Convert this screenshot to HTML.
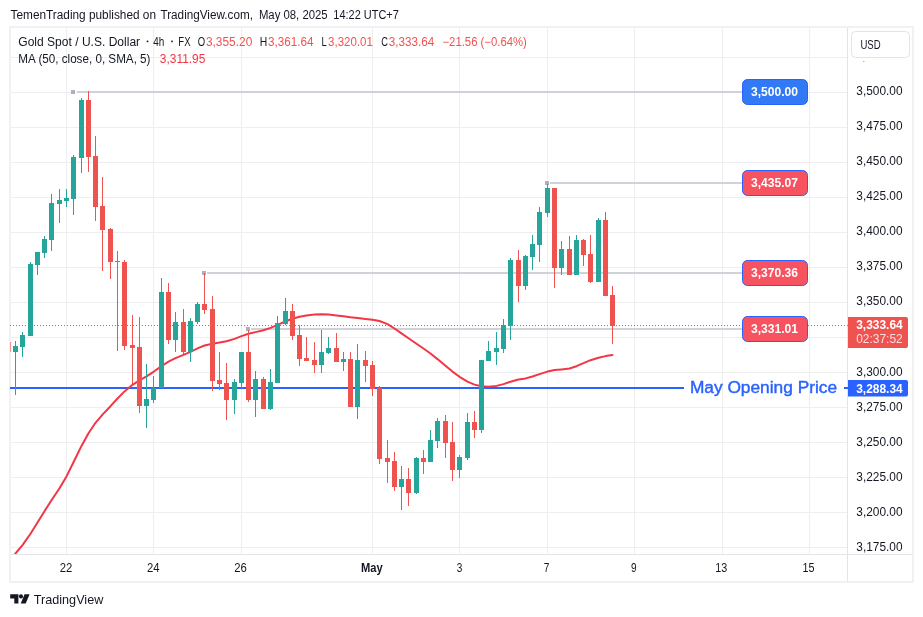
<!DOCTYPE html>
<html><head><meta charset="utf-8"><title>XAUUSD chart</title>
<style>
html,body{margin:0;padding:0;background:#fff;}
body{width:923px;height:617px;overflow:hidden;position:relative;font-family:"Liberation Sans",sans-serif;}
svg{position:absolute;left:0;top:0;will-change:transform;}
text{font-family:"Liberation Sans",sans-serif;}
</style></head><body>
<svg width="923" height="617" viewBox="0 0 923 617">
<defs><clipPath id="pane"><rect x="10" y="28" width="838" height="526"/></clipPath></defs>
<rect x="0" y="0" width="923" height="617" fill="#ffffff"/>
<g shape-rendering="crispEdges">
<rect x="66" y="28" width="1" height="526" fill="#eeeef0"/>
<rect x="153" y="28" width="1" height="526" fill="#eeeef0"/>
<rect x="241" y="28" width="1" height="526" fill="#eeeef0"/>
<rect x="372" y="28" width="1" height="526" fill="#eeeef0"/>
<rect x="459" y="28" width="1" height="526" fill="#eeeef0"/>
<rect x="547" y="28" width="1" height="526" fill="#eeeef0"/>
<rect x="634" y="28" width="1" height="526" fill="#eeeef0"/>
<rect x="722" y="28" width="1" height="526" fill="#eeeef0"/>
<rect x="809" y="28" width="1" height="526" fill="#eeeef0"/>
<rect x="11" y="57" width="837" height="1" fill="#eeeef0"/>
<rect x="11" y="92" width="837" height="1" fill="#eeeef0"/>
<rect x="11" y="127" width="837" height="1" fill="#eeeef0"/>
<rect x="11" y="162" width="837" height="1" fill="#eeeef0"/>
<rect x="11" y="197" width="837" height="1" fill="#eeeef0"/>
<rect x="11" y="232" width="837" height="1" fill="#eeeef0"/>
<rect x="11" y="267" width="837" height="1" fill="#eeeef0"/>
<rect x="11" y="302" width="837" height="1" fill="#eeeef0"/>
<rect x="11" y="337" width="837" height="1" fill="#eeeef0"/>
<rect x="11" y="372" width="837" height="1" fill="#eeeef0"/>
<rect x="11" y="407" width="837" height="1" fill="#eeeef0"/>
<rect x="11" y="442" width="837" height="1" fill="#eeeef0"/>
<rect x="11" y="477" width="837" height="1" fill="#eeeef0"/>
<rect x="11" y="512" width="837" height="1" fill="#eeeef0"/>
<rect x="11" y="547" width="837" height="1" fill="#eeeef0"/>
<rect x="9" y="26" width="905" height="2" fill="#f1f1f3"/>
<rect x="9" y="581" width="905" height="2" fill="#f1f1f3"/>
<rect x="9" y="26" width="2" height="557" fill="#f1f1f3"/>
<rect x="912" y="26" width="2" height="557" fill="#f1f1f3"/>
<rect x="847" y="28" width="1" height="553" fill="#e4e4e8"/>
<rect x="11" y="554" width="901" height="1" fill="#e4e4e8"/>
</g>
<g shape-rendering="crispEdges">
<rect x="77" y="91" width="665" height="2" fill="#d0d2d9"/>
<rect x="207" y="272" width="535" height="2" fill="#d0d2d9"/>
<rect x="550" y="182" width="192" height="2" fill="#d0d2d9"/>
<rect x="251" y="328" width="491" height="2" fill="#d0d2d9"/>
</g>
<rect x="71" y="90" width="4" height="4" fill="#adb0c0"/>
<rect x="202" y="271" width="4" height="4" fill="#adb0c0"/>
<rect x="545" y="181" width="4" height="4" fill="#adb0c0"/>
<rect x="246" y="327" width="4" height="4" fill="#adb0c0"/>
<g shape-rendering="crispEdges">
<rect x="10" y="387" width="674" height="2" fill="#2962ff"/>
<rect x="844" y="387" width="4" height="2" fill="#2962ff"/>
</g>
<polyline points="10.0,560.8 15.5,553.5 22.5,545.1 30.5,533.7 37.5,522.5 44.5,511.2 51.5,500.3 59.5,488.2 66.5,476.4 73.5,462.2 81.5,445.9 88.5,433.2 95.5,422.8 102.5,414.6 110.5,406.2 117.5,398.5 124.5,391.4 132.5,384.8 139.5,380.3 146.5,376.3 153.5,371.8 161.5,366.1 168.5,361.7 175.5,358.1 183.5,354.8 190.5,351.9 197.5,348.4 204.5,345.5 212.5,343.7 219.5,342.6 226.5,341.3 234.5,338.9 241.5,336.1 248.5,333.7 255.5,332.1 263.5,330.3 270.5,327.9 277.5,324.8 285.5,321.3 292.5,318.7 299.5,316.8 306.5,315.4 314.5,314.4 321.5,314.3 328.5,314.6 336.5,315.4 343.5,316.3 350.5,317.3 357.5,318.1 365.5,318.9 372.5,319.7 379.5,321.0 387.5,324.1 394.5,328.5 401.5,333.4 408.5,338.3 416.5,343.8 423.5,348.5 430.5,353.5 437.5,359.1 445.5,365.8 452.5,371.6 459.5,376.8 467.5,381.7 474.5,384.6 481.5,386.2 488.5,386.7 496.5,385.9 503.5,384.1 510.5,381.7 518.5,379.5 525.5,378.4 532.5,376.5 539.5,374.1 547.5,371.6 554.5,370.1 561.5,369.4 569.5,368.5 576.5,366.2 583.5,363.1 590.5,360.2 598.5,357.7 605.5,356.1 612.5,355.0" fill="none" stroke="#f23645" stroke-width="2" stroke-linejoin="round" stroke-linecap="round" clip-path="url(#pane)"/>
<g shape-rendering="crispEdges" clip-path="url(#pane)">
<rect x="10" y="342" width="1" height="10" fill="#ef5350" fill-opacity="0.6"/>
<rect x="15" y="341" width="1" height="54" fill="#26a69a"/>
<rect x="13" y="346" width="5" height="6" fill="#26a69a"/>
<rect x="22" y="332" width="1" height="25" fill="#26a69a"/>
<rect x="20" y="335" width="5" height="12" fill="#26a69a"/>
<rect x="30" y="262" width="1" height="74" fill="#26a69a"/>
<rect x="28" y="264" width="5" height="72" fill="#26a69a"/>
<rect x="37" y="252" width="1" height="23" fill="#26a69a"/>
<rect x="35" y="252" width="5" height="13" fill="#26a69a"/>
<rect x="44" y="236" width="1" height="22" fill="#26a69a"/>
<rect x="42" y="239" width="5" height="14" fill="#26a69a"/>
<rect x="51" y="194" width="1" height="57" fill="#26a69a"/>
<rect x="49" y="203" width="5" height="37" fill="#26a69a"/>
<rect x="59" y="189" width="1" height="34" fill="#26a69a"/>
<rect x="57" y="200" width="5" height="4" fill="#26a69a"/>
<rect x="66" y="189" width="1" height="18" fill="#26a69a"/>
<rect x="64" y="198" width="5" height="3" fill="#26a69a"/>
<rect x="73" y="155" width="1" height="60" fill="#26a69a"/>
<rect x="71" y="157" width="5" height="42" fill="#26a69a"/>
<rect x="81" y="98" width="1" height="75" fill="#26a69a"/>
<rect x="79" y="100" width="5" height="58" fill="#26a69a"/>
<rect x="88" y="91" width="1" height="81" fill="#ef5350"/>
<rect x="86" y="100" width="5" height="57" fill="#ef5350"/>
<rect x="95" y="136" width="1" height="85" fill="#ef5350"/>
<rect x="93" y="156" width="5" height="51" fill="#ef5350"/>
<rect x="102" y="177" width="1" height="94" fill="#ef5350"/>
<rect x="100" y="206" width="5" height="24" fill="#ef5350"/>
<rect x="110" y="228" width="1" height="51" fill="#ef5350"/>
<rect x="108" y="229" width="5" height="33" fill="#ef5350"/>
<rect x="117" y="251" width="1" height="100" fill="#ef5350"/>
<rect x="115" y="261" width="5" height="1" fill="#ef5350"/>
<rect x="124" y="260" width="1" height="90" fill="#ef5350"/>
<rect x="122" y="262" width="5" height="84" fill="#ef5350"/>
<rect x="132" y="315" width="1" height="69" fill="#ef5350"/>
<rect x="130" y="345" width="5" height="3" fill="#ef5350"/>
<rect x="139" y="317" width="1" height="96" fill="#ef5350"/>
<rect x="137" y="347" width="5" height="59" fill="#ef5350"/>
<rect x="146" y="364" width="1" height="64" fill="#26a69a"/>
<rect x="144" y="399" width="5" height="7" fill="#26a69a"/>
<rect x="153" y="376" width="1" height="27" fill="#26a69a"/>
<rect x="151" y="388" width="5" height="12" fill="#26a69a"/>
<rect x="161" y="278" width="1" height="110" fill="#26a69a"/>
<rect x="159" y="292" width="5" height="96" fill="#26a69a"/>
<rect x="168" y="283" width="1" height="61" fill="#ef5350"/>
<rect x="166" y="292" width="5" height="48" fill="#ef5350"/>
<rect x="175" y="312" width="1" height="40" fill="#26a69a"/>
<rect x="173" y="322" width="5" height="18" fill="#26a69a"/>
<rect x="183" y="309" width="1" height="45" fill="#ef5350"/>
<rect x="181" y="322" width="5" height="30" fill="#ef5350"/>
<rect x="190" y="318" width="1" height="44" fill="#26a69a"/>
<rect x="188" y="321" width="5" height="31" fill="#26a69a"/>
<rect x="197" y="302" width="1" height="22" fill="#26a69a"/>
<rect x="195" y="304" width="5" height="18" fill="#26a69a"/>
<rect x="204" y="273" width="1" height="41" fill="#ef5350"/>
<rect x="202" y="304" width="5" height="6" fill="#ef5350"/>
<rect x="212" y="296" width="1" height="95" fill="#ef5350"/>
<rect x="210" y="309" width="5" height="72" fill="#ef5350"/>
<rect x="219" y="352" width="1" height="38" fill="#ef5350"/>
<rect x="217" y="380" width="5" height="4" fill="#ef5350"/>
<rect x="226" y="363" width="1" height="57" fill="#ef5350"/>
<rect x="224" y="383" width="5" height="17" fill="#ef5350"/>
<rect x="234" y="379" width="1" height="35" fill="#26a69a"/>
<rect x="232" y="382" width="5" height="18" fill="#26a69a"/>
<rect x="241" y="352" width="1" height="36" fill="#26a69a"/>
<rect x="239" y="352" width="5" height="31" fill="#26a69a"/>
<rect x="248" y="330" width="1" height="72" fill="#ef5350"/>
<rect x="246" y="352" width="5" height="48" fill="#ef5350"/>
<rect x="255" y="371" width="1" height="46" fill="#26a69a"/>
<rect x="253" y="379" width="5" height="21" fill="#26a69a"/>
<rect x="263" y="377" width="1" height="32" fill="#ef5350"/>
<rect x="261" y="379" width="5" height="30" fill="#ef5350"/>
<rect x="270" y="369" width="1" height="41" fill="#26a69a"/>
<rect x="268" y="382" width="5" height="27" fill="#26a69a"/>
<rect x="277" y="316" width="1" height="67" fill="#26a69a"/>
<rect x="275" y="323" width="5" height="60" fill="#26a69a"/>
<rect x="285" y="298" width="1" height="27" fill="#26a69a"/>
<rect x="283" y="311" width="5" height="13" fill="#26a69a"/>
<rect x="292" y="304" width="1" height="36" fill="#ef5350"/>
<rect x="290" y="311" width="5" height="25" fill="#ef5350"/>
<rect x="299" y="325" width="1" height="41" fill="#ef5350"/>
<rect x="297" y="335" width="5" height="24" fill="#ef5350"/>
<rect x="306" y="337" width="1" height="24" fill="#ef5350"/>
<rect x="304" y="358" width="5" height="3" fill="#ef5350"/>
<rect x="314" y="342" width="1" height="31" fill="#ef5350"/>
<rect x="312" y="360" width="5" height="5" fill="#ef5350"/>
<rect x="321" y="330" width="1" height="43" fill="#26a69a"/>
<rect x="319" y="352" width="5" height="13" fill="#26a69a"/>
<rect x="328" y="337" width="1" height="17" fill="#26a69a"/>
<rect x="326" y="348" width="5" height="5" fill="#26a69a"/>
<rect x="336" y="333" width="1" height="29" fill="#ef5350"/>
<rect x="334" y="348" width="5" height="14" fill="#ef5350"/>
<rect x="343" y="352" width="1" height="19" fill="#26a69a"/>
<rect x="341" y="359" width="5" height="3" fill="#26a69a"/>
<rect x="350" y="352" width="1" height="55" fill="#ef5350"/>
<rect x="348" y="359" width="5" height="48" fill="#ef5350"/>
<rect x="357" y="344" width="1" height="75" fill="#26a69a"/>
<rect x="355" y="360" width="5" height="47" fill="#26a69a"/>
<rect x="365" y="351" width="1" height="31" fill="#ef5350"/>
<rect x="363" y="360" width="5" height="6" fill="#ef5350"/>
<rect x="372" y="361" width="1" height="35" fill="#ef5350"/>
<rect x="370" y="365" width="5" height="24" fill="#ef5350"/>
<rect x="379" y="386" width="1" height="78" fill="#ef5350"/>
<rect x="377" y="388" width="5" height="71" fill="#ef5350"/>
<rect x="387" y="440" width="1" height="43" fill="#ef5350"/>
<rect x="385" y="458" width="5" height="4" fill="#ef5350"/>
<rect x="394" y="452" width="1" height="39" fill="#ef5350"/>
<rect x="392" y="461" width="5" height="26" fill="#ef5350"/>
<rect x="401" y="466" width="1" height="44" fill="#26a69a"/>
<rect x="399" y="479" width="5" height="8" fill="#26a69a"/>
<rect x="408" y="468" width="1" height="38" fill="#ef5350"/>
<rect x="406" y="479" width="5" height="14" fill="#ef5350"/>
<rect x="416" y="457" width="1" height="37" fill="#26a69a"/>
<rect x="414" y="458" width="5" height="35" fill="#26a69a"/>
<rect x="423" y="450" width="1" height="24" fill="#ef5350"/>
<rect x="421" y="458" width="5" height="4" fill="#ef5350"/>
<rect x="430" y="430" width="1" height="32" fill="#26a69a"/>
<rect x="428" y="440" width="5" height="22" fill="#26a69a"/>
<rect x="437" y="418" width="1" height="30" fill="#26a69a"/>
<rect x="435" y="421" width="5" height="20" fill="#26a69a"/>
<rect x="445" y="415" width="1" height="43" fill="#ef5350"/>
<rect x="443" y="421" width="5" height="22" fill="#ef5350"/>
<rect x="452" y="422" width="1" height="59" fill="#ef5350"/>
<rect x="450" y="442" width="5" height="28" fill="#ef5350"/>
<rect x="459" y="455" width="1" height="23" fill="#26a69a"/>
<rect x="457" y="457" width="5" height="13" fill="#26a69a"/>
<rect x="467" y="413" width="1" height="47" fill="#26a69a"/>
<rect x="465" y="422" width="5" height="36" fill="#26a69a"/>
<rect x="474" y="411" width="1" height="27" fill="#ef5350"/>
<rect x="472" y="422" width="5" height="8" fill="#ef5350"/>
<rect x="481" y="360" width="1" height="73" fill="#26a69a"/>
<rect x="479" y="360" width="5" height="70" fill="#26a69a"/>
<rect x="488" y="341" width="1" height="20" fill="#26a69a"/>
<rect x="486" y="351" width="5" height="10" fill="#26a69a"/>
<rect x="496" y="332" width="1" height="33" fill="#26a69a"/>
<rect x="494" y="348" width="5" height="4" fill="#26a69a"/>
<rect x="503" y="319" width="1" height="34" fill="#26a69a"/>
<rect x="501" y="325" width="5" height="24" fill="#26a69a"/>
<rect x="510" y="258" width="1" height="82" fill="#26a69a"/>
<rect x="508" y="260" width="5" height="66" fill="#26a69a"/>
<rect x="518" y="250" width="1" height="52" fill="#ef5350"/>
<rect x="516" y="260" width="5" height="26" fill="#ef5350"/>
<rect x="525" y="255" width="1" height="35" fill="#26a69a"/>
<rect x="523" y="256" width="5" height="30" fill="#26a69a"/>
<rect x="532" y="235" width="1" height="35" fill="#26a69a"/>
<rect x="530" y="244" width="5" height="13" fill="#26a69a"/>
<rect x="539" y="207" width="1" height="55" fill="#26a69a"/>
<rect x="537" y="212" width="5" height="33" fill="#26a69a"/>
<rect x="547" y="184" width="1" height="33" fill="#26a69a"/>
<rect x="545" y="188" width="5" height="25" fill="#26a69a"/>
<rect x="554" y="188" width="1" height="100" fill="#ef5350"/>
<rect x="552" y="188" width="5" height="80" fill="#ef5350"/>
<rect x="561" y="241" width="1" height="34" fill="#26a69a"/>
<rect x="559" y="249" width="5" height="19" fill="#26a69a"/>
<rect x="569" y="236" width="1" height="39" fill="#ef5350"/>
<rect x="567" y="249" width="5" height="26" fill="#ef5350"/>
<rect x="576" y="235" width="1" height="40" fill="#26a69a"/>
<rect x="574" y="240" width="5" height="35" fill="#26a69a"/>
<rect x="583" y="239" width="1" height="27" fill="#ef5350"/>
<rect x="581" y="240" width="5" height="15" fill="#ef5350"/>
<rect x="590" y="235" width="1" height="48" fill="#ef5350"/>
<rect x="588" y="254" width="5" height="28" fill="#ef5350"/>
<rect x="598" y="218" width="1" height="64" fill="#26a69a"/>
<rect x="596" y="220" width="5" height="62" fill="#26a69a"/>
<rect x="605" y="212" width="1" height="84" fill="#ef5350"/>
<rect x="603" y="220" width="5" height="76" fill="#ef5350"/>
<rect x="612" y="286" width="1" height="58" fill="#ef5350"/>
<rect x="610" y="295" width="5" height="31" fill="#ef5350"/>
</g>
<line x1="10" y1="325.5" x2="848" y2="325.5" stroke="#ef5350" stroke-width="1" stroke-dasharray="1 2" shape-rendering="crispEdges"/>
<rect x="742.5" y="79.5" width="65" height="25" rx="5" ry="5" fill="#3179f5" stroke="#2962ff" stroke-width="1"/>
<text x="751" y="96.3" font-size="12" font-weight="bold" fill="#ffffff" textLength="47" lengthAdjust="spacingAndGlyphs">3,500.00</text>
<rect x="742.5" y="170.5" width="65" height="25" rx="5" ry="5" fill="#f7525f" stroke="#2962ff" stroke-width="1"/>
<text x="751" y="187.3" font-size="12" font-weight="bold" fill="#ffffff" textLength="47" lengthAdjust="spacingAndGlyphs">3,435.07</text>
<rect x="742.5" y="260.5" width="65" height="25" rx="5" ry="5" fill="#f7525f" stroke="#2962ff" stroke-width="1"/>
<text x="751" y="277.3" font-size="12" font-weight="bold" fill="#ffffff" textLength="47" lengthAdjust="spacingAndGlyphs">3,370.36</text>
<rect x="742.5" y="316.5" width="65" height="25" rx="5" ry="5" fill="#f7525f" stroke="#2962ff" stroke-width="1"/>
<text x="751" y="333.3" font-size="12" font-weight="bold" fill="#ffffff" textLength="47" lengthAdjust="spacingAndGlyphs">3,331.01</text>
<text x="689.9" y="392.8" font-size="16" fill="#2962ff" stroke="#2962ff" stroke-width="0.4" textLength="147.2" lengthAdjust="spacingAndGlyphs">May Opening Price</text>
<text x="856.3" y="94.8" font-size="12" fill="#131722" textLength="46.2" lengthAdjust="spacingAndGlyphs">3,500.00</text>
<text x="856.3" y="129.9" font-size="12" fill="#131722" textLength="46.2" lengthAdjust="spacingAndGlyphs">3,475.00</text>
<text x="856.3" y="165.0" font-size="12" fill="#131722" textLength="46.2" lengthAdjust="spacingAndGlyphs">3,450.00</text>
<text x="856.3" y="200.1" font-size="12" fill="#131722" textLength="46.2" lengthAdjust="spacingAndGlyphs">3,425.00</text>
<text x="856.3" y="235.1" font-size="12" fill="#131722" textLength="46.2" lengthAdjust="spacingAndGlyphs">3,400.00</text>
<text x="856.3" y="270.2" font-size="12" fill="#131722" textLength="46.2" lengthAdjust="spacingAndGlyphs">3,375.00</text>
<text x="856.3" y="305.3" font-size="12" fill="#131722" textLength="46.2" lengthAdjust="spacingAndGlyphs">3,350.00</text>
<text x="856.3" y="375.5" font-size="12" fill="#131722" textLength="46.2" lengthAdjust="spacingAndGlyphs">3,300.00</text>
<text x="856.3" y="410.6" font-size="12" fill="#131722" textLength="46.2" lengthAdjust="spacingAndGlyphs">3,275.00</text>
<text x="856.3" y="445.7" font-size="12" fill="#131722" textLength="46.2" lengthAdjust="spacingAndGlyphs">3,250.00</text>
<text x="856.3" y="480.7" font-size="12" fill="#131722" textLength="46.2" lengthAdjust="spacingAndGlyphs">3,225.00</text>
<text x="856.3" y="515.8" font-size="12" fill="#131722" textLength="46.2" lengthAdjust="spacingAndGlyphs">3,200.00</text>
<text x="856.3" y="550.9" font-size="12" fill="#131722" textLength="46.2" lengthAdjust="spacingAndGlyphs">3,175.00</text>
<rect x="863.3" y="61" width="1" height="1" fill="#8a8d96"/>
<rect x="851.5" y="31.5" width="58" height="26" rx="4" ry="4" fill="#ffffff" stroke="#e4e4e8" stroke-width="1"/>
<text x="860.4" y="48.8" font-size="12" fill="#131722" textLength="20.2" lengthAdjust="spacingAndGlyphs">USD</text>
<path d="M848 317 H906 a2 2 0 0 1 2 2 V346 a2 2 0 0 1 -2 2 H848 Z" fill="#ef5350"/>
<text x="856.2" y="329.0" font-size="12" font-weight="bold" fill="#ffffff" textLength="46.5" lengthAdjust="spacingAndGlyphs">3,333.64</text>
<text x="856.2" y="343.0" font-size="12" fill="#ffffff" fill-opacity="0.8" textLength="46.5" lengthAdjust="spacingAndGlyphs">02:37:52</text>
<path d="M848 380 H906 a2 2 0 0 1 2 2 V394.5 a2 2 0 0 1 -2 2 H848 Z" fill="#2962ff"/>
<text x="856.2" y="392.6" font-size="12" font-weight="bold" fill="#ffffff" textLength="46.5" lengthAdjust="spacingAndGlyphs">3,288.34</text>
<text x="59.7" y="571.6" font-size="12" fill="#131722" textLength="12.6" lengthAdjust="spacingAndGlyphs">22</text>
<text x="146.9" y="571.6" font-size="12" fill="#131722" textLength="12.6" lengthAdjust="spacingAndGlyphs">24</text>
<text x="234.3" y="571.6" font-size="12" fill="#131722" textLength="12.6" lengthAdjust="spacingAndGlyphs">26</text>
<text x="360.9" y="571.6" font-size="12" font-weight="bold" fill="#131722" textLength="21.7" lengthAdjust="spacingAndGlyphs">May</text>
<text x="456.7" y="571.6" font-size="12" fill="#131722" textLength="5.6" lengthAdjust="spacingAndGlyphs">3</text>
<text x="543.8" y="571.6" font-size="12" fill="#131722" textLength="5.6" lengthAdjust="spacingAndGlyphs">7</text>
<text x="631.0" y="571.6" font-size="12" fill="#131722" textLength="5.6" lengthAdjust="spacingAndGlyphs">9</text>
<text x="715.2" y="571.6" font-size="12" fill="#131722" textLength="12.0" lengthAdjust="spacingAndGlyphs">13</text>
<text x="802.6" y="571.6" font-size="12" fill="#131722" textLength="12.0" lengthAdjust="spacingAndGlyphs">15</text>
<text x="10.6" y="19.0" font-size="12" fill="#131722" textLength="145.4" lengthAdjust="spacingAndGlyphs">TemenTrading published on</text>
<text x="160.5" y="19.0" font-size="12" fill="#131722" textLength="92.4" lengthAdjust="spacingAndGlyphs">TradingView.com,</text>
<text x="258.9" y="19.0" font-size="12" fill="#131722" textLength="68.8" lengthAdjust="spacingAndGlyphs">May 08, 2025</text>
<text x="333.3" y="19.0" font-size="12" fill="#131722" textLength="65.5" lengthAdjust="spacingAndGlyphs">14:22 UTC+7</text>
<text x="18.3" y="45.7" font-size="12" fill="#131722" textLength="121.8" lengthAdjust="spacingAndGlyphs">Gold Spot / U.S. Dollar</text>
<text x="153.2" y="45.7" font-size="12" fill="#131722" textLength="11.1" lengthAdjust="spacingAndGlyphs">4h</text>
<text x="178.3" y="45.7" font-size="12" fill="#131722" textLength="12.2" lengthAdjust="spacingAndGlyphs">FX</text>
<text x="197.8" y="45.7" font-size="12" fill="#131722" textLength="7.4" lengthAdjust="spacingAndGlyphs">O</text>
<rect x="146.7" y="40.6" width="1.6" height="1.6" fill="#131722"/>
<rect x="171.2" y="40.6" width="1.6" height="1.6" fill="#131722"/>
<text x="205.9" y="45.7" font-size="12" fill="#ef5350" textLength="46.4" lengthAdjust="spacingAndGlyphs">3,355.20</text>
<text x="259.8" y="45.7" font-size="12" fill="#131722" textLength="7.5" lengthAdjust="spacingAndGlyphs">H</text>
<text x="268.0" y="45.7" font-size="12" fill="#ef5350" textLength="45.6" lengthAdjust="spacingAndGlyphs">3,361.64</text>
<text x="321.6" y="45.7" font-size="12" fill="#131722" textLength="5.2" lengthAdjust="spacingAndGlyphs">L</text>
<text x="328.1" y="45.7" font-size="12" fill="#ef5350" textLength="44.8" lengthAdjust="spacingAndGlyphs">3,320.01</text>
<text x="381.2" y="45.7" font-size="12" fill="#131722" textLength="6.7" lengthAdjust="spacingAndGlyphs">C</text>
<text x="388.7" y="45.7" font-size="12" fill="#ef5350" textLength="45.5" lengthAdjust="spacingAndGlyphs">3,333.64</text>
<text x="442.5" y="45.7" font-size="12" fill="#ef5350" textLength="84.3" lengthAdjust="spacingAndGlyphs">&#8722;21.56 (&#8722;0.64%)</text>
<text x="18.3" y="63.2" font-size="12" fill="#131722" textLength="132.2" lengthAdjust="spacingAndGlyphs">MA (50, close, 0, SMA, 5)</text>
<text x="159.8" y="63.2" font-size="12" fill="#f23645" textLength="45.6" lengthAdjust="spacingAndGlyphs">3,311.95</text>
<g fill="#131722">
<path d="M10.2 594.3 H18.4 V603.6 H14.3 V598.4 H10.2 Z"/>
<circle cx="21.0" cy="596.4" r="2.05"/>
<path d="M24.6 594.3 H29.6 L25.7 603.6 H20.7 Z"/>
</g>
<text x="33.8" y="603.6" font-size="13.5" fill="#131722" textLength="69.5" lengthAdjust="spacingAndGlyphs">TradingView</text>
</svg>
</body></html>
